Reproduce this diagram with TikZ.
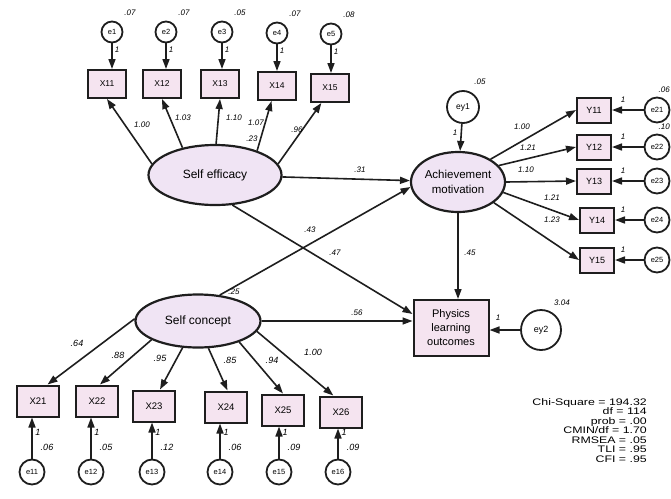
\documentclass[tikz,border=0pt]{standalone}
\usepackage{fontspec}
\setmainfont{Liberation Sans}
\newfontfamily\largefont[FakeStretch=1.3]{Liberation Sans}
\usetikzlibrary{arrows.meta,shapes.geometric}
\definecolor{rosepale}{RGB}{245,228,240}
\definecolor{lilaspale}{RGB}{240,228,244}
\definecolor{trait}{RGB}{30,30,30}

\begin{document}
\begin{tikzpicture}[x=1pt,y=-1pt,
    obs/.style={draw=trait, line width=2pt, fill=rosepale, minimum width=38pt, minimum height=28pt, inner sep=0pt, font=\fontsize{8.5}{10}\selectfont},
    obsbas/.style={obs, minimum width=42pt, minimum height=31pt, font=\fontsize{9.5}{11}\selectfont},
    lat/.style={ellipse, draw=trait, line width=2.2pt, fill=lilaspale, inner sep=0pt, font=\fontsize{12}{15}\selectfont},
    err/.style={circle, draw=trait, line width=1.8pt, fill=white, minimum size=21pt, inner sep=0pt, font=\fontsize{7.5}{8}\selectfont},
    coef/.style={font=\fontsize{8}{9}\selectfont\itshape, inner sep=0pt},
    coefbas/.style={coef, font=\fontsize{9}{10}\selectfont\itshape},
    fl/.style={draw=trait, line width=1.6pt, -{Triangle[length=10pt,width=7pt]}}]
    \useasboundingbox (0,0) rectangle (671,498);

    % Facteur Self efficacy et ses indicateurs
    \node[lat, minimum width=133pt, minimum height=60pt] (se) at (215,175) {Self efficacy};
    \foreach \i/\x/\y in {1/107/84, 2/162/84, 3/220/84, 4/277/86, 5/330/88}
        \node[obs] (x1\i) at (\x,\y) {X1\i};
    \foreach \i/\x/\y/\v in {1/112/32/.07, 2/166/32/.07, 3/222/32/.05, 4/277/33/.07, 5/331/34/.08} {
        \node[err] (e\i) at (\x,\y) {e\i};
        \node[coef] at (\x+18,\y-19) {\v};
        \draw[fl] (e\i) -- (e\i |- x1\i.north);
        \node[coef] at (\x+5,\y+18) {1};
    }
    \draw[fl] (se.170) -- (x11.south);
    \draw[fl] (se.140) -- (x12.south);
    \draw[fl] (se.88) -- (x13.south);
    \draw[fl] (se.30) -- (x14.250);
    \draw[fl] (se.10) -- (x15.240);
    \node[coef] at (142,125) {1.00};
    \node[coef] at (183,118) {1.03};
    \node[coef] at (234,118) {1.10};
    \node[coef] at (256,123) {1.07};
    \node[coef] at (252,139) {.23};
    \node[coef] at (297,130) {.96};

    % Facteur Achievement motivation
    \node[lat, minimum width=82pt, minimum height=60pt, align=center, font=\fontsize{11.5}{15}\selectfont] (am) at (458,182) {Achievement\\motivation};
    \node[err, minimum size=32pt, font=\fontsize{8.5}{9}\selectfont] (ey1) at (463,107) {ey1};
    \node[coef] at (480,82) {.05};
    \draw[fl] (ey1) -- (am);
    \node[coef] at (455,133) {1};

    % Indicateurs Y
    \foreach \i/\x/\y in {1/594/110, 2/594/147, 3/594/181, 4/597/220, 5/597/260} {
        \node[obs, minimum width=34pt, minimum height=25pt, font=\fontsize{9}{10}\selectfont] (y1\i) at (\x,\y) {Y1\i};
        \node[err, minimum size=25pt] (e2\i) at (657,\y) {e2\i};
        \draw[fl] (e2\i) -- (y1\i.east);
        \node[coef] at (623,\y-10) {1};
    }
    \draw[fl] (am.35) -- (y11.west);
    \draw[fl] (am.22) -- (y12.west);
    \draw[fl] (am.0) -- (y13.west);
    \draw[fl] (am.-13) -- (y14.west);
    \draw[fl] (am.-30) -- (y15.west);
    \node[coef] at (522,127) {1.00};
    \node[coef] at (528,148) {1.21};
    \node[coef] at (526,170) {1.10};
    \node[coef] at (552,198) {1.21};
    \node[coef] at (552,220) {1.23};
    \node[coef, anchor=east] at (670,90) {.06};
    \node[coef, anchor=east] at (670,127) {.10};

    % Variable dependante
    \node[obs, minimum width=75pt, minimum height=56pt, align=center, font=\fontsize{11}{14}\selectfont] (plo) at (451,328) {Physics\\learning\\outcomes};
    \draw[fl] (am.south) -- (am.south |- plo.north);
    \node[coef] at (470,253) {.45};
    \node[err, minimum size=40pt, font=\fontsize{9}{10}\selectfont] (ey2) at (541,330) {ey2};
    \draw[fl] (ey2) -- (ey2 -| plo.east);
    \node[coef] at (498,318) {1};
    \node[coef] at (562,303) {3.04};

    % Facteur Self concept
    \node[lat, minimum width=125pt, minimum height=53pt] (sc) at (198,321) {Self concept};

    % Chemins structurels
    \draw[fl] (se) -- (am);
    \draw[fl] (sc.50) -- (am.186);
    \draw[fl] (se.300) -- (plo.160);
    \draw[fl] (sc.east) -- (sc.east -| plo.west);
    \node[coef] at (360,170) {.31};
    \node[coef] at (310,230) {.43};
    \node[coef] at (335,253) {.47};
    \node[coef] at (357,313) {.56};
    \node[coef] at (234,292) {.25};

    % Indicateurs X2 et erreurs
    \foreach \i/\x/\y/\ex/\v in {1/38/401/32/.06, 2/97/401/91/.05, 3/154/406/152/.12, 4/226/407/220/.06, 5/283/410/279/.09, 6/341/412/338/.09} {
        \node[obsbas] (x2\i) at (\x,\y) {X2\i};
        \node[err, minimum size=25pt] (e1\i) at (\ex,472) {e1\i};
        \draw[fl] (e1\i) -- (e1\i |- x2\i.south);
        \node[coefbas] at (\ex+6,432) {1};
        \node[coefbas] at (\ex+15,447) {\v};
    }
    \draw[fl] (sc.178) -- (x21.60);
    \draw[fl] (sc.202) -- (x22.80);
    \draw[fl] (sc.240) -- (x23.70);
    \draw[fl] (sc.291) -- (x24.85);
    \draw[fl] (sc.333) -- (x25.90);
    \draw[fl] (sc.350) -- (x26.115);
    \node[coefbas] at (77,343) {.64};
    \node[coefbas] at (118,355) {.88};
    \node[coefbas] at (160,358) {.95};
    \node[coefbas] at (230,360) {.85};
    \node[coefbas] at (272,360) {.94};
    \node[coefbas] at (313,352) {1.00};

    % Indices d'ajustement
    \node[anchor=north east, align=right, inner sep=0pt, font=\largefont\fontsize{9.5}{9.5}\selectfont] (fit) at (647,398)
        {Chi-Square = 194.32\\df = 114\\prob = .00\\CMIN/df = 1.70\\RMSEA = .05\\TLI = .95\\CFI = .95};

\end{tikzpicture}
\end{document}
